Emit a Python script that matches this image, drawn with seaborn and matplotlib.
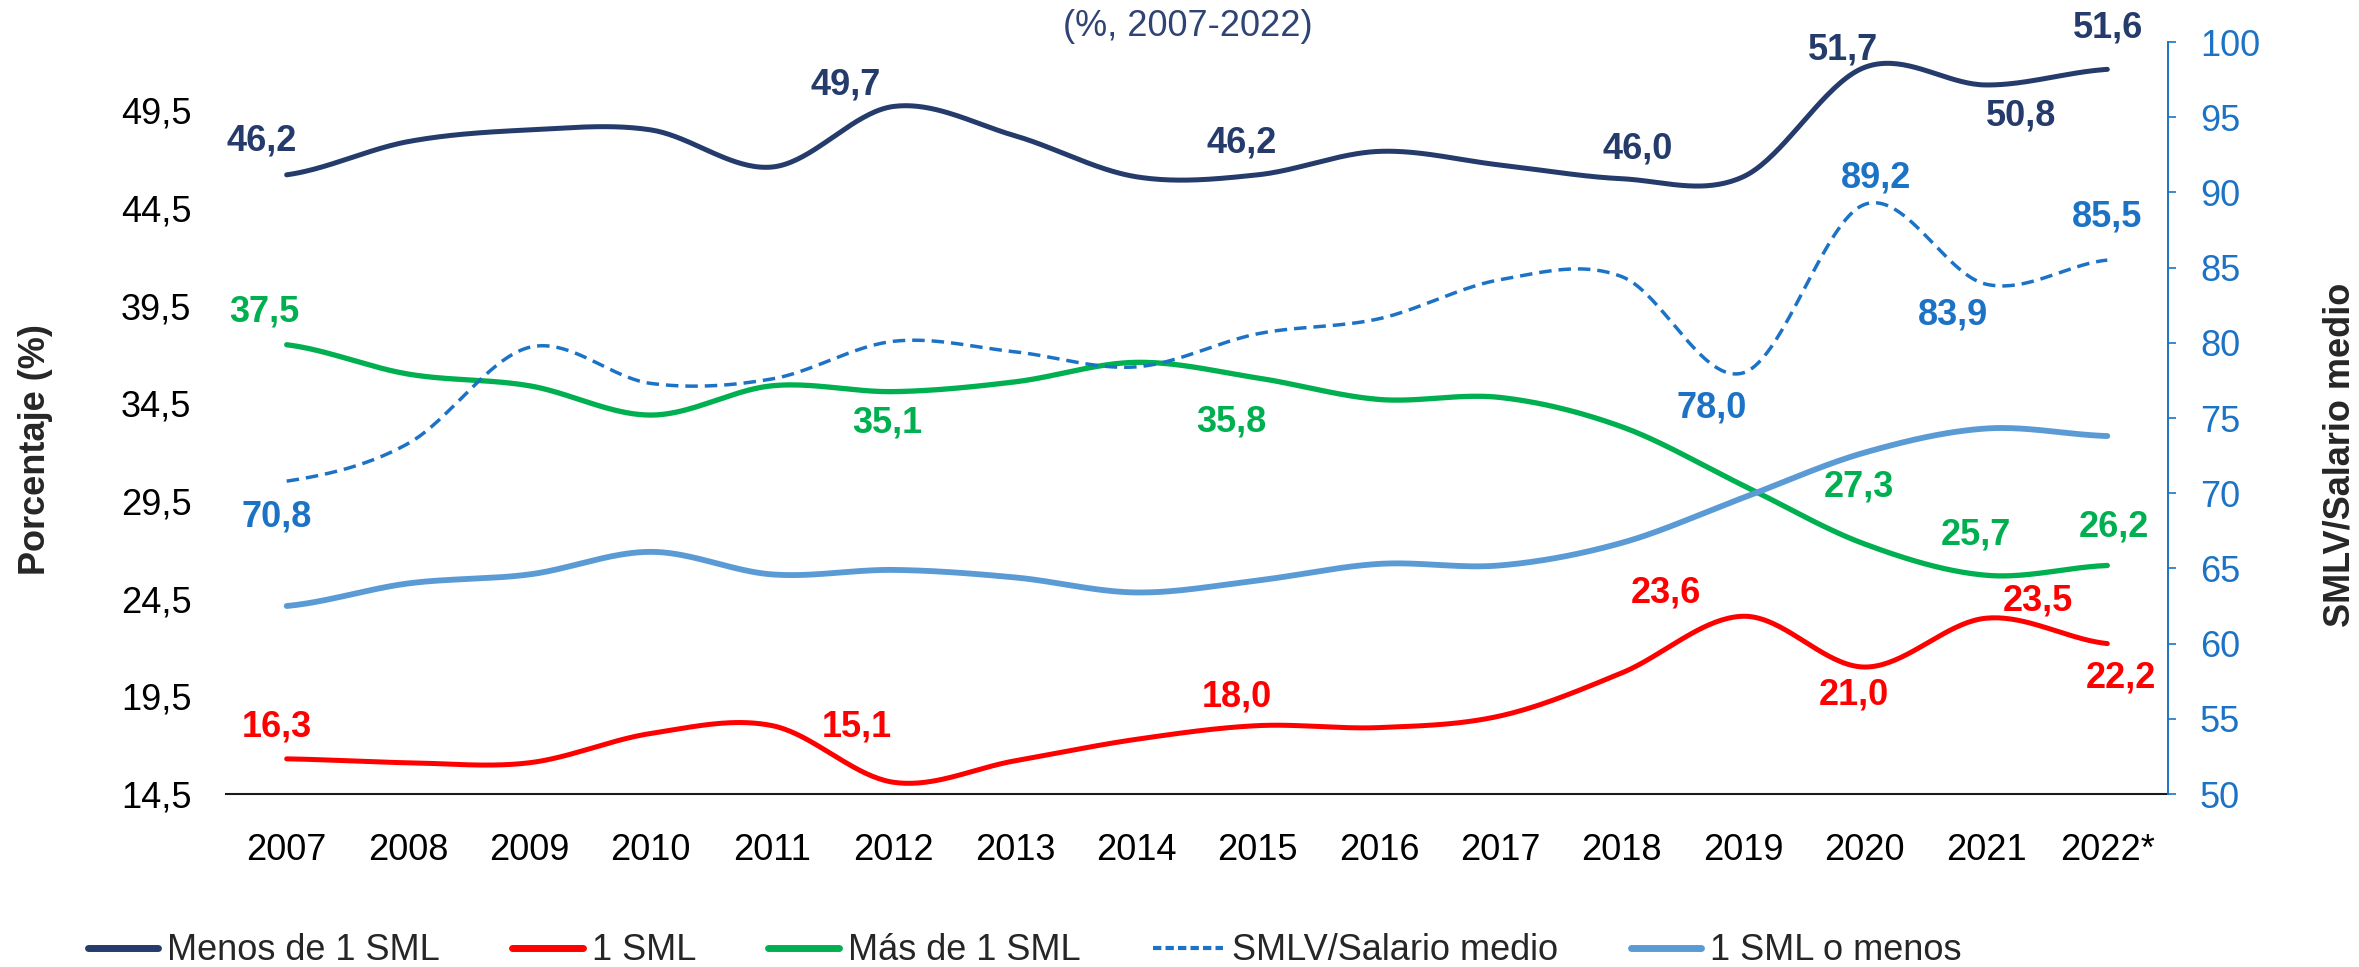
import numpy as np
import matplotlib
matplotlib.use("Agg")
import matplotlib.pyplot as plt
from matplotlib.lines import Line2D
import seaborn as sns

# ---- data -------------------------------------------------------------
years = ["2007", "2008", "2009", "2010", "2011", "2012", "2013", "2014",
         "2015", "2016", "2017", "2018", "2019", "2020", "2021", "2022*"]

menos_1_sml = [46.2, 47.9, 48.5, 48.5, 46.6, 49.7, 48.2, 46.1,
               46.2, 47.4, 46.7, 46.0, 46.1, 51.7, 50.8, 51.6]
un_sml = [16.3, 16.1, 16.1, 17.6, 18.0, 15.1, 16.2, 17.3,
          18.0, 17.9, 18.5, 20.7, 23.6, 21.0, 23.5, 22.2]
mas_1_sml = [37.5, 36.0, 35.4, 33.9, 35.4, 35.1, 35.6, 36.6,
             35.8, 34.7, 34.8, 33.3, 30.3, 27.3, 25.7, 26.2]
smlv_salario = [70.8, 73.3, 79.7, 77.3, 77.6, 80.1, 79.4, 78.4,
                80.6, 81.6, 84.2, 84.4, 78.0, 89.2, 83.9, 85.5]
un_sml_o_menos = [62.5, 64.0, 64.6, 66.1, 64.6, 64.9, 64.4, 63.4,
                  64.2, 65.3, 65.2, 66.7, 69.7, 72.7, 74.3, 73.8]

left_ticks = [14.5, 19.5, 24.5, 29.5, 34.5, 39.5, 44.5, 49.5]
right_ticks = [50, 55, 60, 65, 70, 75, 80, 85, 90, 95, 100]

# labelled points: index -> label offset in pixels (dx, dy; dy up)
lab_menos = {0: (-25, 34), 5: (-48, 21), 8: (-16, 32), 11: (16, 30),
             13: (-22, 17), 14: (35, -31), 15: (1, 41)}
lab_un = {0: (-10, 32), 5: (-37, 55), 8: (-21, 29), 12: (-77, 23),
          13: (-11, -28), 14: (52, 17), 15: (14, -34)}
lab_mas = {0: (-22, 33), 5: (-6, -31), 8: (-26, -44), 13: (-6, 57),
           14: (-10, 40), 15: (7, 38)}
lab_smlv = {0: (-10, -36), 12: (-31, -35), 13: (12, 26), 14: (-33, -31),
            15: (0, 43)}

# ---- colours ----------------------------------------------------------
C_NAVY = "#243B6B"
C_RED = "#FF0000"
C_GREEN = "#00B050"
C_DASH = "#1C73C6"
C_LIGHT = "#5B9BD5"


def smooth_curve(values, n=40):
    """Bezier smoothing through every point (Catmull-Rom tangents)."""
    y = np.asarray(values, float)
    p = np.concatenate([[y[0]], y, [y[-1]]])
    xs, ys = [], []
    last = len(y) - 2
    for i in range(len(y) - 1):
        p0, p1, p2, p3 = p[i], p[i + 1], p[i + 2], p[i + 3]
        t = np.linspace(0, 1, n, endpoint=(i == last))
        c1 = p1 + (p2 - p0) / 6.0
        c2 = p2 - (p3 - p1) / 6.0
        b = ((1 - t) ** 3 * p1 + 3 * (1 - t) ** 2 * t * c1
             + 3 * (1 - t) * t ** 2 * c2 + t ** 3 * p2)
        xs.append(i + t)
        ys.append(b)
    return np.concatenate(xs), np.concatenate(ys)


def fmt(v):
    return f"{v:.1f}".replace(".", ",")


sns.set_theme(style="white")
plt.rcParams["font.family"] = ["Liberation Sans", "DejaVu Sans"]
FS = 26

fig = plt.figure(figsize=(23.59, 9.67), dpi=100)
ax = fig.add_axes([226 / 2359, 1 - 794 / 967, (2168 - 226) / 2359, (794 - 42) / 967])
ax2 = ax.twinx()

xi = np.arange(len(years))

# left-axis series
for vals, col, lw in [(menos_1_sml, C_NAVY, 3.6), (un_sml, C_RED, 3.6),
                      (mas_1_sml, C_GREEN, 3.8)]:
    sx, sy = smooth_curve(vals)
    sns.lineplot(x=sx, y=sy, ax=ax, color=col, linewidth=lw,
                 solid_capstyle="round", legend=False, sort=False)

# right-axis series
sx, sy = smooth_curve(un_sml_o_menos)
sns.lineplot(x=sx, y=sy, ax=ax2, color=C_LIGHT, linewidth=4.2,
             solid_capstyle="round", legend=False, sort=False)
sx, sy = smooth_curve(smlv_salario)
sns.lineplot(x=sx, y=sy, ax=ax2, color=C_DASH, linewidth=2.5,
             linestyle=(0, (3.6, 2.0)), legend=False, sort=False)

# data labels
for axis, vals, labs, col in [(ax, menos_1_sml, lab_menos, C_NAVY),
                              (ax, un_sml, lab_un, C_RED),
                              (ax, mas_1_sml, lab_mas, C_GREEN),
                              (ax2, smlv_salario, lab_smlv, C_DASH)]:
    for i, (dx, dy) in labs.items():
        axis.annotate(fmt(vals[i]), xy=(xi[i], vals[i]), xytext=(dx, dy),
                      textcoords="offset pixels", ha="center", va="center",
                      fontsize=FS, fontweight="bold", color=col)

# axes styling
ax.set_xlim(-0.5, len(years) - 0.5)
ax.set_ylim(14.5, 53.0)
ax2.set_ylim(50, 100)
ax.set_xticks(xi)
ax.set_xticklabels(years, fontsize=FS)
ax.set_yticks(left_ticks)
ax.set_yticklabels([fmt(v) for v in left_ticks], fontsize=FS)
ax2.set_yticks(right_ticks)
ax2.set_yticklabels([str(v) for v in right_ticks], fontsize=FS, color=C_DASH)

ax.tick_params(axis="x", length=0, pad=28, colors="black")
ax.tick_params(axis="y", length=0, pad=25, colors="black")
ax2.tick_params(axis="y", length=6, width=1.2, direction="out",
                color=C_DASH, pad=17)

for s in ["left", "top", "right"]:
    ax.spines[s].set_visible(False)
ax.spines["bottom"].set_color("#1a1a1a")
ax.spines["bottom"].set_linewidth(1.5)
for s in ["left", "top", "bottom"]:
    ax2.spines[s].set_visible(False)
ax2.spines["right"].set_color(C_DASH)
ax2.spines["right"].set_linewidth(1.4)
ax.grid(False)
ax2.grid(False)
ax.set_xlabel("")
ax.set_ylabel("")
ax2.set_ylabel("")

# axis titles and subtitle
fig.text(36 / 2359, 1 - 450 / 967, "Porcentaje (%)", rotation=90,
         ha="center", va="center", fontsize=FS, fontweight="bold")
fig.text(2340 / 2359, 1 - 455 / 967, "SMLV/Salario medio", rotation=90,
         ha="center", va="center", fontsize=FS, fontweight="bold")
fig.text(1188 / 2359, 1 - 27 / 967, "(%, 2007-2022)", ha="center",
         va="center", fontsize=FS, color="#2F4475")

# legend
handles = [
    Line2D([], [], color=C_NAVY, lw=5),
    Line2D([], [], color=C_RED, lw=5),
    Line2D([], [], color=C_GREEN, lw=5),
    Line2D([], [], color=C_DASH, lw=3, linestyle=(0, (2.0, 1.0))),
    Line2D([], [], color=C_LIGHT, lw=5),
]
names = ["Menos de 1 SML", "1 SML", "Más de 1 SML", "SMLV/Salario medio",
         "1 SML o menos"]
fig.legend(handles, names, loc="center left",
           bbox_to_anchor=(88 / 2359, 1 - 951 / 967), ncol=5, frameon=False,
           fontsize=FS, handlelength=1.95, handletextpad=0.25,
           columnspacing=2.0, borderaxespad=0, borderpad=0)

fig.savefig("out.png", dpi=100)
